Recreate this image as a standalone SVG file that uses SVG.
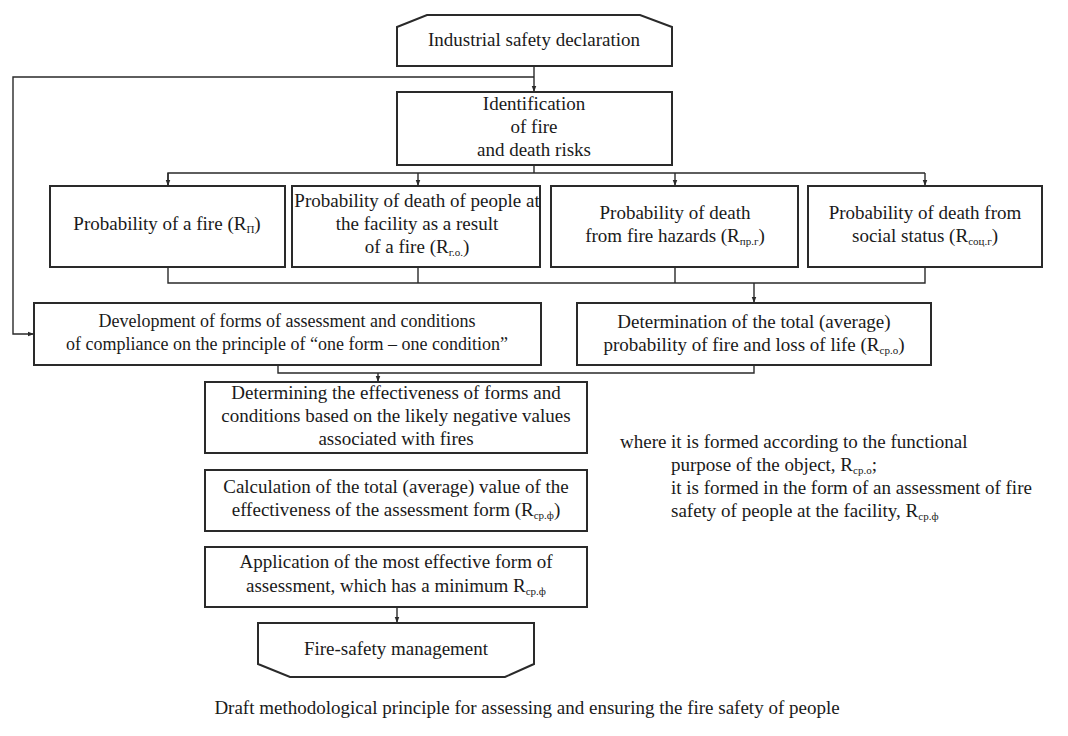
<svg xmlns="http://www.w3.org/2000/svg" width="1068" height="736" viewBox="0 0 1068 736">
<style>
.box{fill:#fff;stroke:#2a2a2a;stroke-width:2}
.con{fill:none;stroke:#2a2a2a;stroke-width:1.4}
text{font-family:"Liberation Serif","Times New Roman",serif;font-size:19px;fill:#1a1a1a;text-anchor:middle}
.sub{font-size:11px}
.l{text-anchor:start}
.s18{font-size:18px}
</style>
<defs>
<marker id="ar" viewBox="0 0 8 8" refX="8" refY="4" markerWidth="6" markerHeight="6" orient="auto" markerUnits="userSpaceOnUse">
<path d="M0,1 L8,4 L0,7 z" fill="#2a2a2a"/>
</marker>
</defs>
<rect width="1068" height="736" fill="#fff"/>
<g id="connectors">
<path class="con" d="M534,66 V92" marker-end="url(#ar)"/>
<path class="con" d="M534,77 H13 V334 H34" marker-end="url(#ar)"/>
<path class="con" d="M534,165 V173 M168,186 V173 H925"/>
<path class="con" d="M168,173 V186" marker-end="url(#ar)"/>
<path class="con" d="M418,173 V186" marker-end="url(#ar)"/>
<path class="con" d="M675,173 V186" marker-end="url(#ar)"/>
<path class="con" d="M925,173 V186" marker-end="url(#ar)"/>
<path class="con" d="M168,267 V283 H925 V267 M418,267 V283 M675,267 V283"/>
<path class="con" d="M754,283 V303" marker-end="url(#ar)"/>
<path class="con" d="M278,365 V373 H754 V365"/>
<path class="con" d="M378,373 V382" marker-end="url(#ar)"/>
<path class="con" d="M397,607 V623" marker-end="url(#ar)"/>
</g>
<g id="declaration">
<path class="box" d="M427,15 H640 L672,27 V66 H397 V27 Z"/>
<text x="534" y="46">Industrial safety declaration</text>
</g>
<g id="identification">
<rect class="box" x="397" y="92" width="275" height="73"/>
<text x="534" y="110">Identification</text>
<text x="534" y="133">of fire</text>
<text x="534" y="156">and death risks</text>
</g>
<g id="prob-fire">
<rect class="box" x="50" y="186" width="235" height="81"/>
<text x="167" y="230">Probability of a fire (R<tspan class="sub" dy="3">П</tspan><tspan dy="-3">)</tspan></text>
</g>
<g id="prob-death-facility">
<rect class="box" x="292" y="186" width="248" height="81"/>
<text x="417" y="207">Probability of death of people at</text>
<text x="417" y="230">the facility as a result</text>
<text x="417" y="253">of a fire (R<tspan class="sub" dy="3">г.о.</tspan><tspan dy="-3">)</tspan></text>
</g>
<g id="prob-death-hazards">
<rect class="box" x="551" y="186" width="247" height="81"/>
<text x="675" y="219">Probability of death</text>
<text x="675" y="242">from fire hazards (R<tspan class="sub" dy="3">пр.г</tspan><tspan dy="-3">)</tspan></text>
</g>
<g id="prob-death-social">
<rect class="box" x="808" y="186" width="234" height="81"/>
<text x="925" y="219">Probability of death from</text>
<text x="925" y="242">social status (R<tspan class="sub" dy="3">соц.г</tspan><tspan dy="-3">)</tspan></text>
</g>
<g id="development">
<rect class="box" x="34" y="303" width="507" height="62"/>
<text class="s18" x="287" y="327">Development of forms of assessment and conditions</text>
<text class="s18" x="287" y="350">of compliance on the principle of “one form – one condition”</text>
</g>
<g id="determination">
<rect class="box" x="577" y="303" width="354" height="62"/>
<text x="754" y="328">Determination of the total (average)</text>
<text x="754" y="351">probability of fire and loss of life (R<tspan class="sub" dy="3">ср.о</tspan><tspan dy="-3">)</tspan></text>
</g>
<g id="determining">
<rect class="box" x="205" y="382" width="382" height="71"/>
<text x="396" y="399">Determining the effectiveness of forms and</text>
<text x="396" y="422">conditions based on the likely negative values</text>
<text x="396" y="445">associated with fires</text>
</g>
<g id="calculation">
<rect class="box" x="205" y="470" width="382" height="61"/>
<text x="396" y="493">Calculation of the total (average) value of the</text>
<text x="396" y="516">effectiveness of the assessment form (R<tspan class="sub" dy="3">ср.ф</tspan><tspan dy="-3">)</tspan></text>
</g>
<g id="application">
<rect class="box" x="205" y="547" width="382" height="60"/>
<text x="396" y="568">Application of the most effective form of</text>
<text x="396" y="592">assessment, which has a minimum R<tspan class="sub" dy="3">ср.ф</tspan></text>
</g>
<g id="management">
<path class="box" d="M258,623 H534 V664 L505,677 H290 L258,664 Z"/>
<text x="396" y="655">Fire-safety management</text>
</g>
<g id="note">
<text class="l" x="620" y="448">where</text>
<text class="l" x="671" y="448">it is formed according to the functional</text>
<text class="l" x="671" y="471">purpose of the object, R<tspan class="sub" dy="3">ср.о</tspan><tspan dy="-3">;</tspan></text>
<text class="l" x="671" y="494">it is formed in the form of an assessment of fire</text>
<text class="l" x="671" y="517">safety of people at the facility, R<tspan class="sub" dy="3">ср.ф</tspan></text>
</g>
<text x="527" y="714">Draft methodological principle for assessing and ensuring the fire safety of people</text>
</svg>
